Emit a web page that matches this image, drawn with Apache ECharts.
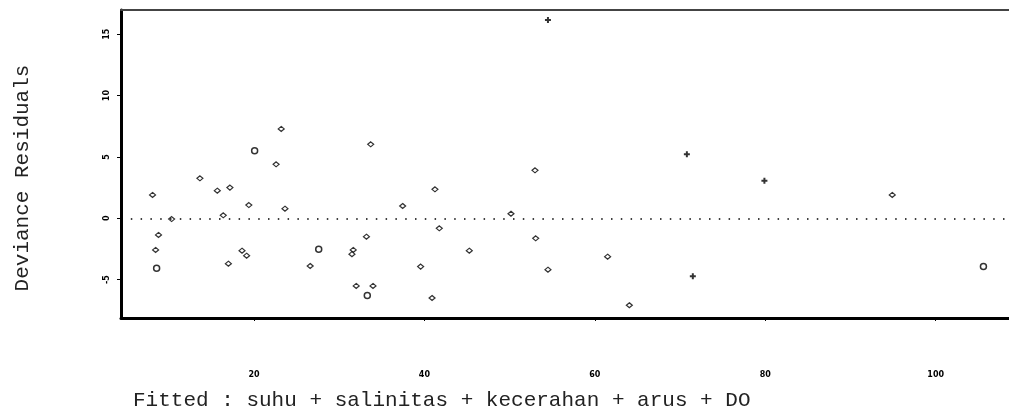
<!DOCTYPE html>
<html>
<head>
<meta charset="utf-8">
<script src="https://cdn.jsdelivr.net/npm/echarts@6/dist/echarts.min.js"></script>
<style>html,body{margin:0;padding:0;background:#fff;}#c{width:1009px;height:412px;}</style>
</head>
<body>
<div id="c"></div>
<script>
// Fitted values (x) and deviance residuals (y), grouped by marker shape as seen in the plot
const diamondX = [8.1, 8.8, 8.46, 10.34, 13.66, 15.7, 17.18, 16.4, 19.4, 22.6, 17.0, 18.6, 19.14, 23.2, 23.64, 26.6, 33.7, 33.2, 31.65, 31.5, 32.0, 33.97, 37.45, 39.56, 41.24, 41.75, 40.9, 45.27, 50.16, 52.98, 53.06, 54.5, 61.5, 64.05, 94.9];
const diamondY = [1.9, -1.36, -2.58, -0.06, 3.26, 2.25, 2.5, 0.24, 1.08, 4.4, -3.7, -2.64, -3.05, 7.28, 0.78, -3.89, 6.03, -1.5, -2.58, -2.93, -5.52, -5.52, 1.0, -3.94, 2.36, -0.82, -6.5, -2.64, 0.37, 3.91, -1.63, -4.19, -3.13, -7.09, 1.9];
const circleX = [8.58, 20.08, 27.6, 33.3, 105.6];
const circleY = [-4.07, 5.5, -2.53, -6.3, -3.94];
const plusX = [54.5, 70.8, 71.5, 79.9];
const plusY = [16.16, 5.21, -4.73, 3.06];
const xTicks = [20, 40, 60, 80, 100];
const yTicks = [-5, 0, 5, 10, 15];

const zip = (a, b) => a.map((v, i) => [v, b[i]]);
const plusPath = 'path://M2,0H4V2H6V4H4V6H2V4H0V2H2Z';

const chart = echarts.init(document.getElementById('c'), null, {renderer: 'canvas'});
chart.setOption({
  animation: false,
  backgroundColor: '#fff',
  grid: {left: 121, top: 10, right: 0, height: 308, containLabel: false},
  xAxis: [{
    type: 'value', min: 4.4, max: 108.6, position: 'bottom',
    axisLine: {show: true, onZero: false, lineStyle: {color: '#000', width: 3}},
    axisTick: {show: true, length: 3, customValues: xTicks, lineStyle: {color: '#000', width: 1}},
    axisLabel: {show: true, customValues: xTicks, margin: 53, color: '#000', fontFamily: 'DejaVu Sans', fontWeight: 'bold', fontSize: 8},
    splitLine: {show: false}
  }, {
    type: 'value', min: 4.4, max: 108.6, position: 'top',
    axisLine: {show: true, onZero: false, lineStyle: {color: '#444', width: 2}},
    axisTick: {show: false}, axisLabel: {show: false}, splitLine: {show: false}
  }],
  yAxis: {
    type: 'value', min: -8.13, max: 16.98,
    axisLine: {show: true, onZero: false, lineStyle: {color: '#000', width: 3}},
    axisTick: {show: true, length: 4, customValues: yTicks, lineStyle: {color: '#000', width: 1}},
    axisLabel: {show: true, customValues: yTicks, rotate: 90, margin: 10, color: '#000', fontFamily: 'DejaVu Sans', fontWeight: 'bold', fontSize: 8},
    splitLine: {show: false}
  },
  series: [{
    type: 'scatter', data: zip(diamondX, diamondY), symbol: 'diamond', symbolSize: [6, 5],
    itemStyle: {color: '#fff', borderColor: '#000', borderWidth: 1.2},
    markLine: {
      silent: true, symbol: 'none', label: {show: false},
      lineStyle: {color: '#000', type: [1.5, 8.3], width: 1.5},
      data: [{yAxis: 0}]
    }
  }, {
    type: 'scatter', data: zip(circleX, circleY), symbol: 'circle', symbolSize: 6,
    itemStyle: {color: '#fff', borderColor: '#000', borderWidth: 1.5}
  }, {
    type: 'scatter', data: zip(plusX, plusY), symbol: plusPath, symbolSize: 6,
    itemStyle: {color: '#000'}
  }],
  graphic: [{
    type: 'text', left: 133, top: 390,
    style: {text: 'Fitted : suhu + salinitas + kecerahan + arus + DO', fontFamily: 'Liberation Mono', fontSize: 21, fill: '#222'}
  }, {
    type: 'text', x: 22, y: 178, rotation: Math.PI / 2,
    style: {text: 'Deviance Residuals', fontFamily: 'Liberation Mono', fontSize: 21, fill: '#222', align: 'center', verticalAlign: 'middle'}
  }]
});
</script>
</body>
</html>
